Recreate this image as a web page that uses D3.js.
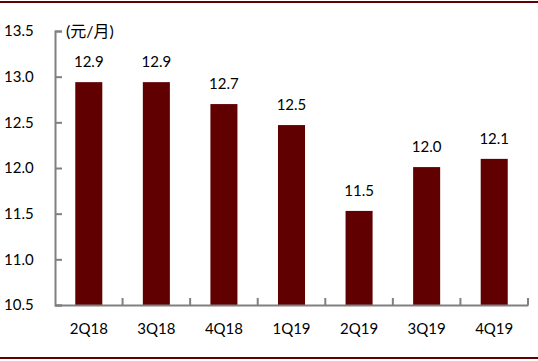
<!DOCTYPE html>
<html>
<head>
<meta charset="utf-8">
<script src="https://cdn.jsdelivr.net/npm/d3@7"></script>
<style>
  body { margin: 0; background: #fff; }
  text { font-family: Lato, "Noto Sans CJK SC", sans-serif; fill: #000; }
</style>
</head>
<body>
<div id="chart"></div>
<script>
// quarters and average monthly values (元/月)
var categories = ["2Q18", "3Q18", "4Q18", "1Q19", "2Q19", "3Q19", "4Q19"];
var values = [12.94, 12.94, 12.70, 12.47, 11.53, 12.01, 12.10];
var yTicks = [10.5, 11.0, 11.5, 12.0, 12.5, 13.0, 13.5];

var W = 538, H = 361;
var margin = {top: 31, right: 10, bottom: 56, left: 55},
    width = 528 - margin.left,
    height = 305 - margin.top;

var svg = d3.select("#chart")
  .append("svg")
  .attr("width", W)
  .attr("height", H);

// frame lines top and bottom
svg.append("rect").attr("x", 0).attr("y", 1).attr("width", W).attr("height", 2).attr("fill", "#600000");
svg.append("rect").attr("x", 0).attr("y", 357).attr("width", W).attr("height", 2).attr("fill", "#600000");

var g = svg.append("g")
  .attr("transform", "translate(" + margin.left + "," + margin.top + ")");

var x = d3.scaleBand()
  .domain(categories)
  .range([0, width])
  .paddingInner(0.6)
  .paddingOuter(0.3);

// band for the axis ticks (no padding)
var xb = d3.scaleBand().domain(categories).range([0, width]);

var y = d3.scaleLinear()
  .domain([10.5, 13.5])
  .range([height, 0]);

// bars
g.selectAll("rect.bar")
  .data(values)
  .enter()
  .append("rect")
    .attr("class", "bar")
    .attr("x", function(d, i) { return x(categories[i]); })
    .attr("width", x.bandwidth())
    .attr("y", function(d) { return y(d); })
    .attr("height", function(d) { return height - y(d); })
    .attr("fill", "#600000");

// value labels
g.selectAll("text.val")
  .data(values)
  .enter()
  .append("text")
    .attr("class", "val")
    .attr("x", function(d, i) { return x(categories[i]) + x.bandwidth() / 2; })
    .attr("y", function(d) { return y(d) - 15; })
    .attr("text-anchor", "middle")
    .style("font-size", "15px")
    .text(function(d) { return d.toFixed(1); });

// Y axis
var yAxis = g.append("g")
  .call(d3.axisLeft(y).tickValues(yTicks).tickFormat(d3.format(".1f")).tickSize(-7).tickPadding(20));
yAxis.select(".domain").attr("stroke", "#808080").attr("stroke-width", 2);
yAxis.selectAll(".tick line").attr("stroke", "#808080").attr("stroke-width", 2);
yAxis.selectAll(".tick text")
  .attr("x", -51)
  .attr("text-anchor", "start")
  .style("font-size", "15px")
  .style("font-family", "Lato, sans-serif");

// X axis, ticks at band edges
var xAxis = g.append("g")
  .attr("transform", "translate(0," + height + ")")
  .call(d3.axisBottom(xb).tickSize(0).tickPadding(18));
xAxis.select(".domain").attr("stroke", "#808080").attr("stroke-width", 2);
xAxis.selectAll(".tick text")
  .style("font-size", "15px")
  .style("font-family", "Lato, sans-serif");

g.append("g").selectAll("line")
  .data(categories)
  .enter()
  .append("line")
    .attr("x1", function(d) { return xb(d) + xb.bandwidth(); })
    .attr("x2", function(d) { return xb(d) + xb.bandwidth(); })
    .attr("y1", height)
    .attr("y2", height - 7)
    .attr("stroke", "#808080")
    .attr("stroke-width", 2);

// unit label
g.append("text")
  .attr("x", 11)
  .attr("y", 6)
  .style("font-size", "16px")
  .text("(元/月)");
</script>
</body>
</html>
